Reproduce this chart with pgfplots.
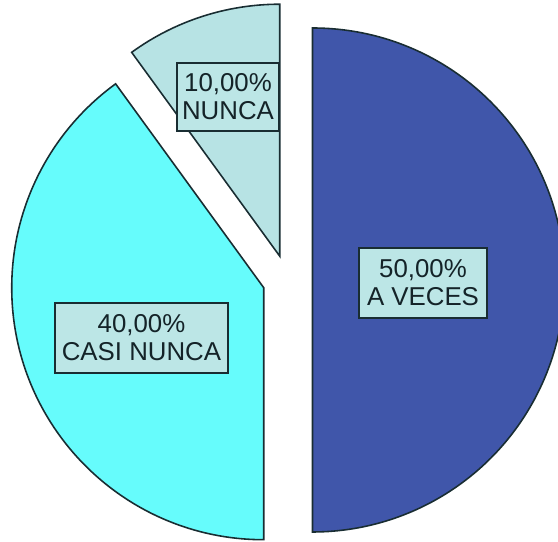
\documentclass[border=0pt]{standalone}
\usepackage{pgfplots}
\pgfplotsset{compat=1.18}
\usepackage{fontspec}
\setmainfont{Liberation Sans}
\definecolor{cAV}{RGB}{64,86,170}
\definecolor{cCN}{RGB}{102,252,252}
\definecolor{cN}{RGB}{183,227,228}
\definecolor{cBox}{RGB}{188,230,230}
\definecolor{cEdge}{RGB}{25,45,50}
\definecolor{cTxt}{RGB}{20,35,40}
\tikzset{lbl/.style={draw=cEdge, fill=cBox, line width=0.9pt, inner sep=0pt,
    align=center, text=cTxt, font=\fontsize{14.7}{15.9}\selectfont}}
% pie: centre (287.5,262) in axis units, radius 252 units (1 unit = 0.02cm), explode 25 units
\newcommand{\slice}[3]{% start percent, percent, colour
  \pgfmathsetmacro{\aS}{90-3.6*#1}%
  \pgfmathsetmacro{\aE}{90-3.6*(#1+#2)}%
  \pgfmathsetmacro{\aM}{(\aS+\aE)/2}%
  \pgfmathsetmacro{\px}{287.5+25*cos(\aM)}%
  \pgfmathsetmacro{\py}{262+25*sin(\aM)}%
  \pgfmathsetmacro{\qx}{\px+252*cos(\aS)}%
  \pgfmathsetmacro{\qy}{\py+252*sin(\aS)}%
  \filldraw[fill=#3, draw=cEdge, line width=0.9pt, line join=miter]
    (axis cs:\px,\py) -- (axis cs:\qx,\qy)
    arc[start angle=\aS, end angle=\aE, radius=5.04cm] -- cycle;%
}
\begin{document}
\begin{tikzpicture}
\begin{axis}[
  name=pie,
  scale only axis, width=11.16cm, height=10.84cm,
  xmin=0, xmax=558, ymin=0, ymax=542,
  axis lines=none, clip=true,
]
\pgfplotsextra{
  \slice{0}{50}{cAV}
  \slice{50}{40}{cCN}
  \slice{90}{10}{cN}
  \node[lbl, minimum width=2.56cm, minimum height=1.40cm] at (axis cs:423,259) {50,00\%\\A VECES};
  \node[lbl, minimum width=3.46cm, minimum height=1.40cm] at (axis cs:141.5,204) {40,00\%\\CASI NUNCA};
  \node[lbl, minimum width=2.04cm, minimum height=1.36cm] at (axis cs:228,445) {10,00\%\\NUNCA};
}
\end{axis}
\pgfresetboundingbox
\path[use as bounding box] (pie.south west) rectangle (pie.north east);
\end{tikzpicture}
\end{document}
